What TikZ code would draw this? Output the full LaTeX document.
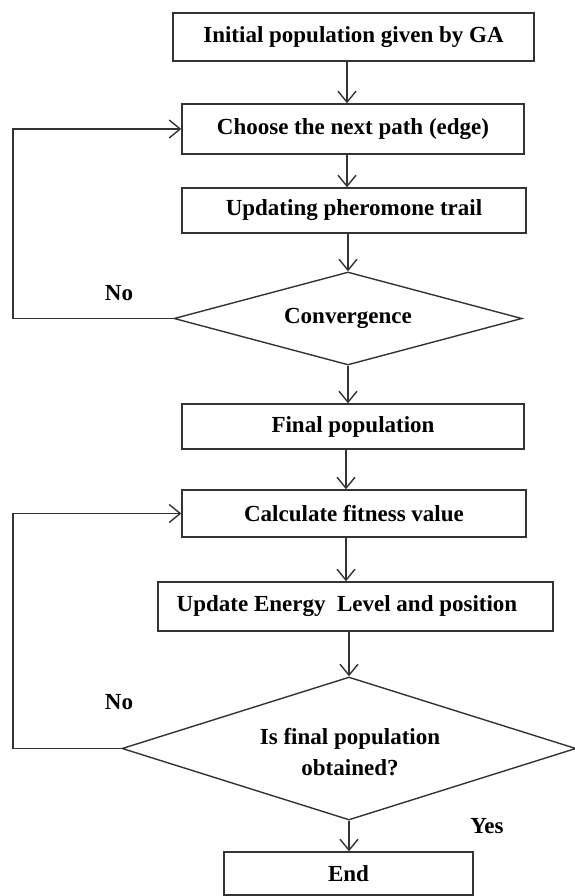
\documentclass[tikz,border=0pt]{standalone}
\usepackage{fontspec}
\setmainfont{Liberation Serif}
\usetikzlibrary{arrows.meta,shapes.geometric}

\tikzset{
  txt/.style={font=\fontsize{23}{31}\selectfont\bfseries},
  flowline/.style={draw=black!80, line width=1.4pt},
  stepbox/.style={flowline, rectangle, inner sep=0pt, txt},
  decision/.style={flowline, diamond, inner sep=0pt},
  arr/.style={flowline, -{Straight Barb[length=11pt,width=18pt,line width=1.4pt]}},
  lbl/.style={txt, inner sep=0pt},
}

\begin{document}
\begin{tikzpicture}[x=1pt, y=-1pt]
\useasboundingbox (0,0) rectangle (574,896);

% process boxes
\node[stepbox, minimum width=361pt, minimum height=48pt] (init) at (353.5,37) {Initial population given by GA};
\node[stepbox, minimum width=342pt, minimum height=50pt] (choose) at (353,129) {Choose the next path (edge)};
\node[stepbox, minimum width=344pt, minimum height=45pt] (pher) at (354,210.5) {Updating pheromone trail};

% convergence test
\node[decision, minimum width=348pt, minimum height=93pt] (conv) at (348,318.5) {};
\node[lbl] at (conv) {Convergence};

\node[stepbox, minimum width=342pt, minimum height=45pt] (final) at (353,426.5) {Final population};
\node[stepbox, minimum width=344pt, minimum height=47pt] (fit) at (354,513.5) {Calculate fitness value};
\node[stepbox, minimum width=395pt, minimum height=49pt] (energy) at (355.5,606.5) {};
\node[lbl] at (347,606.5) {Update Energy\ \ Level and position};

% termination test
\node[decision, minimum width=454pt, minimum height=143pt] (done) at (349,748.5) {};
\node[lbl, align=center] at (350,752) {Is final population\\obtained?};

\node[stepbox, minimum width=249pt, minimum height=43pt] (endb) at (348.5,873.5) {End};

% main flow
\coordinate (colA) at (347,0);
\coordinate (colB) at (346,0);
\draw[arr] (init.south -| colA) -- (choose.north -| colA);
\draw[arr] (choose.south -| colA) -- (pher.north -| colA);
\draw[arr] (pher.south -| conv.north) -- (conv.north);
\draw[arr] (conv.south) -- (final.north -| conv.south);
\draw[arr] (final.south -| colB) -- (fit.north -| colB);
\draw[arr] (fit.south -| colB) -- (energy.north -| colB);
\draw[arr] (energy.south -| done.north) -- (done.north);
\draw[arr] (done.south) -- (endb.north -| done.south);

% feedback loops
\coordinate (railA) at (13,0);
\draw[arr] (conv.west) -- (conv.west -| railA) -- (choose.west -| railA) -- (choose.west);
\draw[arr] (done.west) -- (done.west -| railA) -- (fit.west -| railA) -- (fit.west);

% branch labels
\node[lbl] at (119,293) {No};
\node[lbl] at (119,702) {No};
\node[lbl] at (487,826) {Yes};
\end{tikzpicture}
\end{document}
